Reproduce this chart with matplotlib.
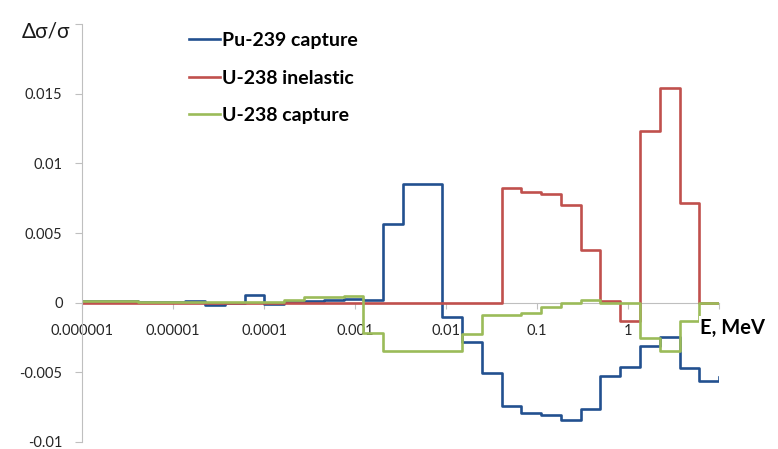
import matplotlib.pyplot as plt
from matplotlib.ticker import FixedLocator, NullLocator

plt.rcParams['font.family'] = ['Lato', 'DejaVu Sans']

# group boundaries, MeV
edges = [1e-6, 4.1e-6, 8.3e-6, 1.37e-5, 2.26e-5, 3.73e-5, 6.14e-5, 1.01e-4,
         1.67e-4, 2.75e-4, 4.54e-4, 7.49e-4, 1.23e-3, 2.03e-3, 3.35e-3,
         5.53e-3, 9.12e-3, 0.0150, 0.0248, 0.0409, 0.0674, 0.111, 0.183,
         0.302, 0.498, 0.821, 1.35, 2.23, 3.68, 6.07, 10.0]

# relative sensitivities per group (30 groups) + value of the closing point
pu239_capture = [0.0001, 0.00005, 0.00005, 0.0001, -0.0002, 0.0, 0.00058,
                 -0.0001, 0.00005, 0.0001, 0.0002, 0.00025, 0.0002, 0.00567,
                 0.00854, 0.00854, -0.0010, -0.0028, -0.00502, -0.00739,
                 -0.00789, -0.00803, -0.00839, -0.0076, -0.00524, -0.00459,
                 -0.0031, -0.00244, -0.00466, -0.0056, -0.0053]
u238_inelastic = [0.0] * 19 + [0.00825, 0.00796, 0.00782, 0.00703, 0.0038,
                               0.00015, -0.00134, 0.01229, 0.0154, 0.00717,
                               0.0, 0.0]
u238_capture = [0.00014, 0.00005, 0.00007, 0.00007, 0.00007, 0.00007, 0.00007,
                0.00007, 0.0002, 0.0004, 0.0004, 0.0005, -0.00215, -0.0035,
                -0.0035, -0.0035, -0.0035, -0.00222, -0.00086, -0.00086,
                -0.00074, -0.00031, 0.0, 0.00018, 0.0, 0.0, -0.00253,
                -0.0035, -0.00134, 0.0, 0.0]

series = [('Pu-239 capture', pu239_capture, '#22508f'),
          ('U-238 inelastic', u238_inelastic, '#c0504d'),
          ('U-238 capture', u238_capture, '#9bbb59')]

xticks = [1e-6, 1e-5, 1e-4, 1e-3, 1e-2, 1e-1, 1, 10]
xlabels = ['0.000001', '0.00001', '0.0001', '0.001', '0.01', '0.1', '1', '']
yticks = [-0.01, -0.005, 0, 0.005, 0.01, 0.015, 0.02]
ylabels = ['-0.01', '-0.005', '0', '0.005', '0.01', '0.015', '']

fig = plt.figure(figsize=(7.78, 4.49), dpi=100)
ax = fig.add_axes([0.1054, 0.0156, 0.8188, 0.9309])

for name, vals, col in series:
    ax.step(edges, vals, where='post', color=col, lw=1.9, label=name)

ax.set_xscale('log')
ax.set_xlim(1e-6, 10)
ax.set_ylim(-0.01, 0.02)

ax.xaxis.set_major_locator(FixedLocator(xticks))
ax.xaxis.set_minor_locator(NullLocator())
ax.set_xticklabels(xlabels)
ax.set_yticks(yticks)
ax.set_yticklabels(ylabels)

grey = '#bfbfbf'
ax.spines['top'].set_visible(False)
ax.spines['right'].set_visible(False)
ax.spines['bottom'].set_position(('data', 0))
ax.spines['bottom'].set_color(grey)
ax.spines['left'].set_color(grey)
ax.spines['bottom'].set_zorder(0)
ax.tick_params(axis='x', direction='out', length=4, color=grey, pad=11,
               labelsize=10.5, labelcolor='#262626')
ax.tick_params(axis='y', direction='out', length=5, color=grey, pad=9,
               labelsize=10.5, labelcolor='#262626')

fig.text(0.028, 0.93, 'Δσ/σ', fontsize=15, color='#1a1a1a', va='center')
ax.text(6.2, -0.0018, 'E, MeV', fontsize=14.5, fontweight='bold',
        va='center', ha='left', zorder=5,
        bbox=dict(facecolor='white', edgecolor='none', pad=1))

ax.legend(loc='upper left', bbox_to_anchor=(0.231, 0.95),
          bbox_transform=fig.transFigure, frameon=False,
          prop={'size': 14, 'weight': 'bold'}, handlelength=1.55,
          handletextpad=0.1, labelspacing=1.05, borderpad=0)

fig.savefig('out.png', dpi=100)
